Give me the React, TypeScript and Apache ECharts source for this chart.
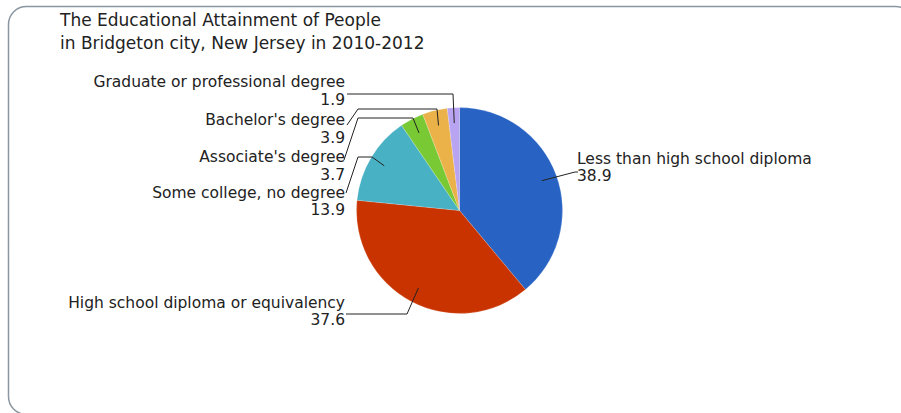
import React, { useEffect, useRef } from 'react';
import * as echarts from 'echarts';

const titleLines = ['The Educational Attainment of People', 'in Bridgeton city, New Jersey in 2010-2012'];
const categories = [
  'Less than high school diploma',
  'High school diploma or equivalency',
  'Some college, no degree',
  "Associate's degree",
  "Bachelor's degree",
  'Graduate or professional degree',
];
const values = [38.9, 37.6, 13.9, 3.7, 3.9, 1.9];
const colors = ['#2863c4', '#c83300', '#49b1c4', '#79c935', '#ebb24a', '#b9a4f1'];

const CX = 459.5;
const CY = 210.5;
const R = 103;
const FONT = '"DejaVu Sans", Verdana, sans-serif';

// label placement and label-line bend points (layout only)
const labelLayouts: { x: number; y: number; align: string; bends: number[][] }[] = [
  { x: 577, y: 167.5, align: 'left', bends: [[575, 172], [578, 172]] },
  { x: 345, y: 311.5, align: 'right', bends: [[407, 314], [346, 314]] },
  { x: 345, y: 201.5, align: 'right', bends: [[372, 157], [358, 157], [346, 193]] },
  { x: 345, y: 166, align: 'right', bends: [[413, 118], [358, 118], [344, 160]] },
  { x: 345, y: 129, align: 'right', bends: [[437, 109], [358, 109], [347, 125]] },
  { x: 345, y: 91, align: 'right', bends: [[453, 94], [347, 94]] },
];

const total = values.reduce((a, b) => a + b, 0);
function anchorPoint(i: number): number[] {
  let before = 0;
  for (let j = 0; j < i; j++) before += values[j];
  const th = ((before + values[i] / 2) / total) * Math.PI * 2;
  return [CX + 0.85 * R * Math.sin(th), CY - 0.85 * R * Math.cos(th)];
}

export default function App() {
  const ref = useRef<HTMLDivElement>(null);
  useEffect(() => {
    if (!ref.current) return;
    const chart = echarts.init(ref.current, undefined, { renderer: 'svg' });
    const data = categories.map((name, i) => ({ name, value: values[i] }));
    chart.setOption({
      animation: false,
      backgroundColor: '#ffffff',
      title: {
        text: titleLines.join('\n'),
        left: 60,
        top: 8,
        padding: 0,
        textStyle: { fontFamily: FONT, fontSize: 17, lineHeight: 23, fontWeight: 'normal', color: '#222' },
      },
      graphic: [
        {
          type: 'rect',
          shape: { x: 8.5, y: 6.5, width: 905, height: 408, r: 18 },
          style: { fill: 'none', stroke: '#8a96a0', lineWidth: 1.5 },
          silent: true,
        },
      ],
      series: [
        {
          type: 'pie',
          z: 2,
          center: [CX, CY],
          radius: R,
          startAngle: 90,
          clockwise: true,
          silent: true,
          emphasis: { disabled: true },
          itemStyle: { borderColor: 'rgba(255,255,255,0.35)', borderWidth: 0.5 },
          label: { show: false },
          labelLine: { show: false },
          data: data.map((d, i) => ({ ...d, itemStyle: { color: colors[i] } })),
        },
        {
          type: 'pie',
          z: 3,
          center: [CX, CY],
          radius: R,
          startAngle: 90,
          clockwise: true,
          silent: true,
          emphasis: { disabled: true },
          itemStyle: { color: 'rgba(0,0,0,0)', borderWidth: 0 },
          label: {
            show: true,
            formatter: '{b}\n{c}',
            fontFamily: FONT,
            fontSize: 15.5,
            lineHeight: 17.5,
            color: '#222',
          },
          labelLine: { show: true, lineStyle: { color: '#222', width: 1 } },
          labelLayout: (p: any) => {
            const L = labelLayouts[p.dataIndex];
            return {
              x: L.x,
              y: L.y,
              align: L.align,
              verticalAlign: 'middle',
              labelLinePoints: [anchorPoint(p.dataIndex), ...L.bends],
            };
          },
          data,
        },
      ],
    });
    return () => chart.dispose();
  }, []);
  return <div ref={ref} style={{ position: 'fixed', left: 0, top: 0, width: 901, height: 413 }} />;
}
